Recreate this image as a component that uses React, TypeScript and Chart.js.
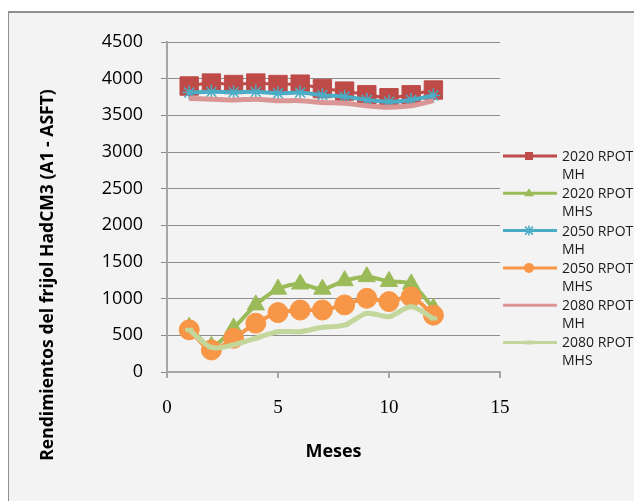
import React, { useEffect, useRef } from 'react';
import { Chart, registerables } from 'chart.js';

Chart.register(...registerables);

const months = [1, 2, 3, 4, 5, 6, 7, 8, 9, 10, 11, 12];
const rpot2020MH = [3900, 3940, 3920, 3940, 3920, 3925, 3865, 3830, 3780, 3740, 3780, 3845];
const rpot2020MHS = [610, 350, 600, 915, 1130, 1200, 1130, 1245, 1300, 1235, 1200, 870];
const rpot2050MH = [3810, 3820, 3815, 3820, 3800, 3810, 3775, 3755, 3710, 3685, 3710, 3770];
const rpot2050MHS = [575, 300, 460, 665, 810, 845, 845, 915, 1005, 960, 1025, 775];
const rpot2080MH = [3730, 3720, 3710, 3720, 3700, 3700, 3675, 3665, 3630, 3610, 3630, 3700];
const rpot2080MHS = [575, 335, 370, 460, 550, 550, 610, 640, 800, 755, 890, 730];

const seriesNames = ['2020 RPOT MH', '2020 RPOT MHS', '2050 RPOT MH', '2050 RPOT MHS', '2080 RPOT MH', '2080 RPOT MHS'];
const seriesValues = [rpot2020MH, rpot2020MHS, rpot2050MH, rpot2050MHS, rpot2080MH, rpot2080MHS];
const xTicks = [0, 5, 10, 15];
const yTickStep = 500;
const yMax = 4500;
const xTitle = 'Meses';
const yTitle = 'Rendimientos del frijol HadCM3 (A1 - ASFT)';

const styles = [
  { color: '#be4b48', width: 3, point: 'rect', radius: 13 },
  { color: '#9bbb59', width: 4, point: 'triangle', radius: 10 },
  { color: '#4bacc6', width: 4, point: 'star', radius: 7 },
  { color: '#f79646', width: 4, point: 'circle', radius: 10 },
  { color: '#d99694', width: 5, point: 'circle', radius: 0 },
  { color: '#c3d69b', width: 5, point: 'line', radius: 4 },
];

function drawMarker(ctx: CanvasRenderingContext2D, kind: string, x: number, y: number, color: string) {
  ctx.save();
  ctx.fillStyle = color;
  ctx.strokeStyle = color;
  if (kind === 'rect') {
    ctx.fillRect(x - 4, y - 4, 8, 8);
  } else if (kind === 'triangle') {
    ctx.beginPath();
    ctx.moveTo(x, y - 5);
    ctx.lineTo(x + 5, y + 3);
    ctx.lineTo(x - 5, y + 3);
    ctx.closePath();
    ctx.fill();
  } else if (kind === 'star') {
    ctx.lineWidth = 1.5;
    ctx.beginPath();
    ctx.moveTo(x, y - 5); ctx.lineTo(x, y + 5);
    ctx.moveTo(x - 4, y - 4); ctx.lineTo(x + 4, y + 4);
    ctx.moveTo(x - 4, y + 4); ctx.lineTo(x + 4, y - 4);
    ctx.stroke();
  } else if (kind === 'circle') {
    ctx.beginPath();
    ctx.arc(x, y, 5, 0, Math.PI * 2);
    ctx.fill();
  } else if (kind === 'line') {
    ctx.fillRect(x - 4, y - 2, 8, 4);
  }
  ctx.restore();
}

const legendPlugin = {
  id: 'customLegend',
  afterDraw(chart: any) {
    const ctx: CanvasRenderingContext2D = chart.ctx;
    ctx.save();
    seriesNames.forEach((name, i) => {
      const st = styles[i];
      const y = 143 + i * 37.3;
      ctx.strokeStyle = st.color;
      ctx.lineWidth = 3;
      ctx.beginPath();
      ctx.moveTo(494, y);
      ctx.lineTo(548, y);
      ctx.stroke();
      if (st.radius > 0) drawMarker(ctx, st.point, 520, y, st.color);
      const idx = name.lastIndexOf(' ');
      const l1 = name.slice(0, idx);
      const l2 = name.slice(idx + 1);
      ctx.fillStyle = '#1a1a1a';
      ctx.font = '14px "Open Sans"';
      ctx.textAlign = 'left';
      ctx.textBaseline = 'middle';
      ctx.fillText(l1, 553, y + 1);
      ctx.fillText(l2, 553, y + 19);
    });
    ctx.restore();
  },
};

const yTitlePlugin = {
  id: 'yTitle',
  afterDraw(chart: any) {
    const ctx: CanvasRenderingContext2D = chart.ctx;
    ctx.save();
    ctx.font = 'bold 16px "Open Sans"';
    const w = ctx.measureText(yTitle).width;
    const size = 16 * 372 / w;
    ctx.font = `bold ${size.toFixed(2)}px "Open Sans"`;
    ctx.translate(39, 262);
    ctx.rotate(-Math.PI / 2);
    ctx.fillStyle = '#000';
    ctx.textAlign = 'center';
    ctx.textBaseline = 'middle';
    ctx.fillText(yTitle, 0, 0);
    ctx.restore();
  },
};

export default function App() {
  const ref = useRef<HTMLCanvasElement>(null);
  useEffect(() => {
    if (!ref.current) return;
    const datasets = seriesNames.map((name, i) => ({
      label: name,
      data: months.map((m, j) => ({ x: m, y: seriesValues[i][j] })),
      borderColor: styles[i].color,
      backgroundColor: styles[i].color,
      borderWidth: styles[i].width,
      pointStyle: styles[i].point as any,
      pointRadius: styles[i].radius,
      pointBorderWidth: styles[i].point === 'star' ? 1.5 : styles[i].point === 'line' ? 4 : 1,
      pointBorderColor: styles[i].color,
      pointBackgroundColor: styles[i].color,
      tension: 0.3,
      order: 5 - i,
      fill: false,
    }));
    const chart = new Chart(ref.current, {
      type: 'line',
      data: { datasets },
      plugins: [legendPlugin, yTitlePlugin],
      options: {
        animation: false,
        responsive: false,
        maintainAspectRatio: false,
        layout: { padding: { top: 29, right: 142, bottom: 34, left: 0 } },
        plugins: { legend: { display: false }, tooltip: { enabled: false } },
        scales: {
          x: {
            type: 'linear',
            min: xTicks[0],
            max: xTicks[xTicks.length - 1],
            afterBuildTicks: (s: any) => { s.ticks = xTicks.map((v) => ({ value: v })); },
            ticks: { padding: 19, color: '#000', font: { family: 'Liberation Serif', size: 19 }, callback: (v: any) => String(v) },
            grid: { drawOnChartArea: false, drawTicks: true, tickLength: 6, color: '#a6a6a6', lineWidth: 2 },
            border: { color: '#a6a6a6', width: 2 },
            title: {
              display: true, text: xTitle, color: '#000',
              font: { family: 'Open Sans', size: 18, weight: 'bold' },
              padding: { top: 0, bottom: 4 },
            },
            afterFit: (s: any) => { s.height = 95; },
          },
          y: {
            min: 0,
            max: yMax,
            ticks: { stepSize: yTickStep, padding: 18, color: '#000', font: { family: 'Open Sans', size: 18 }, callback: (v: any) => String(v) },
            grid: { color: '#8c8c8c', lineWidth: 1, drawTicks: true, tickLength: 6 },
            border: { color: '#a6a6a6', width: 2 },
            afterFit: (s: any) => { s.width = 158; },
          },
        },
      },
    });
    return () => chart.destroy();
  }, []);
  return (
    <div style={{ marginTop: 3, marginLeft: -1, width: 635, height: 490, borderTop: '2px solid #8f8f8f', borderLeft: '2px solid #8f8f8f', background: '#f3f3f3', position: 'relative' }}>
      <canvas ref={ref} width={633} height={488} style={{ display: 'block', width: 633, height: 488 }} />
    </div>
  );
}
